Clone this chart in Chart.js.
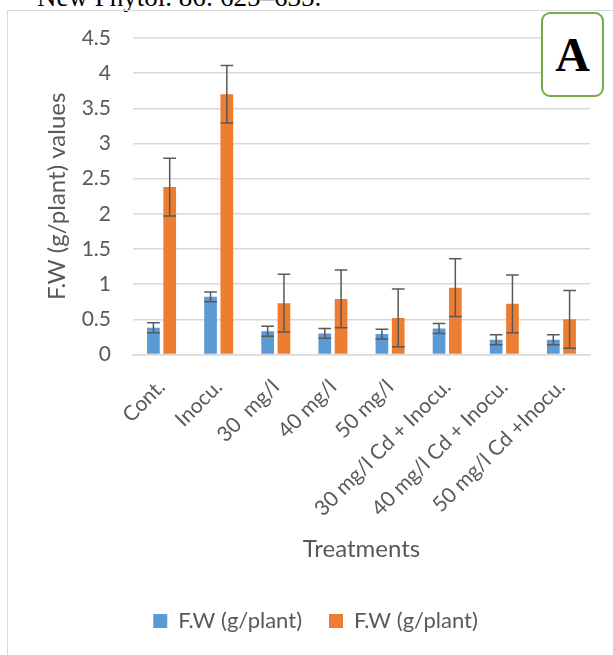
<!DOCTYPE html>
<html lang="en">
<head>
<meta charset="UTF-8">
<title>F.W chart</title>
<script src="https://cdn.jsdelivr.net/npm/chart.js@4.4.1/dist/chart.umd.min.js"></script>
<style>
    html, body { margin: 0; padding: 0; overflow: hidden; background: #fff; }
    body { width: 613px; height: 655px; position: relative; }
    .ref {
        position: absolute; left: 37px; top: -16px;
        font-family: "Liberation Serif", serif; font-size: 27px; line-height: 27px; color: #000;
        white-space: nowrap;
    }
    .frame {
        position: absolute; left: 7px; top: 10px; width: 700px; height: 700px;
        border-left: 1px solid #d9d9d9; border-top: 1px solid #d9d9d9;
    }
    .wrap { position: absolute; left: 8px; top: 11px; width: 615px; height: 644px; }
    .tag {
        position: absolute; left: 541px; top: 12px; width: 59px; height: 81px;
        border: 2px solid #70ad47; border-radius: 9px; background: #fff;
        font-family: "Liberation Serif", serif; font-weight: bold; font-size: 48px;
        line-height: 81px; text-align: center; color: #000;
    }
</style>
</head>
<body>
<div class="ref">New Phytol. 86: 625–635.</div>
<div class="frame"></div>
<div class="wrap"><canvas id="chart" width="615" height="644"></canvas></div>
<div class="tag">A</div>
<script>
    // data
    const treatments = ['Cont.', 'Inocu.', '30  mg/l', '40 mg/l', '50 mg/l',
        '30 mg/l Cd + Inocu.', '40 mg/l Cd + Inocu.', '50 mg/l Cd +Inocu.'];
    const fwBlue = [0.38, 0.82, 0.33, 0.30, 0.29, 0.37, 0.21, 0.21];
    const fwBlueErr = [0.07, 0.07, 0.07, 0.07, 0.07, 0.07, 0.07, 0.07];
    const fwOrange = [2.38, 3.70, 0.73, 0.79, 0.52, 0.95, 0.72, 0.50];
    const fwOrangeErr = [0.41, 0.41, 0.41, 0.41, 0.41, 0.41, 0.41, 0.41];

    const grey = '#595959';
    const font = 'Lato';

    // error bars drawn on top of the bars
    const errorBars = {
        id: 'errorBars',
        afterDatasetsDraw(chart) {
            const ctx = chart.ctx;
            const y = chart.scales.y;
            ctx.save();
            ctx.strokeStyle = grey;
            ctx.lineWidth = 1.5;
            chart.data.datasets.forEach((ds, di) => {
                const meta = chart.getDatasetMeta(di);
                meta.data.forEach((bar, i) => {
                    const v = ds.data[i], e = ds.errors[i];
                    const top = y.getPixelForValue(v + e);
                    const bot = y.getPixelForValue(v - e);
                    const half = bar.width / 2;
                    ctx.beginPath();
                    ctx.moveTo(bar.x, top); ctx.lineTo(bar.x, bot);
                    ctx.moveTo(bar.x - half, top); ctx.lineTo(bar.x + half, top);
                    ctx.moveTo(bar.x - half, bot); ctx.lineTo(bar.x + half, bot);
                    ctx.stroke();
                });
            });
            ctx.restore();
        }
    };

    const noPad = scale => {
        scale.paddingTop = 0; scale.paddingBottom = 0;
        scale.paddingLeft = 0; scale.paddingRight = 0;
    };

    new Chart(document.getElementById('chart'), {
        type: 'bar',
        data: {
            labels: treatments,
            datasets: [
                { label: 'F.W (g/plant)', data: fwBlue, errors: fwBlueErr, backgroundColor: '#5b9bd5',
                  categoryPercentage: 0.57, barPercentage: 0.78 },
                { label: 'F.W (g/plant)', data: fwOrange, errors: fwOrangeErr, backgroundColor: '#ed7d31',
                  categoryPercentage: 0.57, barPercentage: 0.78 }
            ]
        },
        plugins: [errorBars],
        options: {
            responsive: false,
            animation: false,
            layout: { padding: { top: 27, bottom: 13, left: 0, right: 0 } },
            plugins: {
                tooltip: { enabled: false },
                legend: {
                    position: 'bottom',
                    labels: {
                        color: grey, boxWidth: 14, boxHeight: 14, padding: 27,
                        font: { family: font, size: 22 }
                    }
                }
            },
            scales: {
                x: {
                    grid: { display: false },
                    border: { color: '#d9d9d9', width: 1.5 },
                    ticks: {
                        color: grey, minRotation: 45, maxRotation: 45, padding: 12,
                        font: { family: font, size: 21 }
                    },
                    title: {
                        display: true, text: 'Treatments', color: grey,
                        padding: { top: 0, bottom: 19.5 },
                        font: { family: font, size: 24 }
                    },
                    afterFit(scale) { noPad(scale); scale.height = 228.5; }
                },
                y: {
                    min: 0, max: 4.5,
                    grid: { color: '#d9d9d9', lineWidth: 1.5, drawTicks: false },
                    border: { display: false },
                    ticks: {
                        stepSize: 0.5, padding: 22, color: grey,
                        font: { family: font, size: 21 },
                        callback: v => String(v)
                    },
                    title: {
                        display: true, text: 'F.W (g/plant) values', color: grey,
                        padding: { top: 35, bottom: 0 },
                        font: { family: font, size: 24 }
                    },
                    afterFit(scale) { noPad(scale); scale.width = 125; }
                },
                right: {
                    position: 'right',
                    grid: { display: false },
                    border: { display: false },
                    ticks: { display: false },
                    afterFit(scale) { noPad(scale); scale.width = 33; }
                }
            }
        }
    });
</script>
</body>
</html>
